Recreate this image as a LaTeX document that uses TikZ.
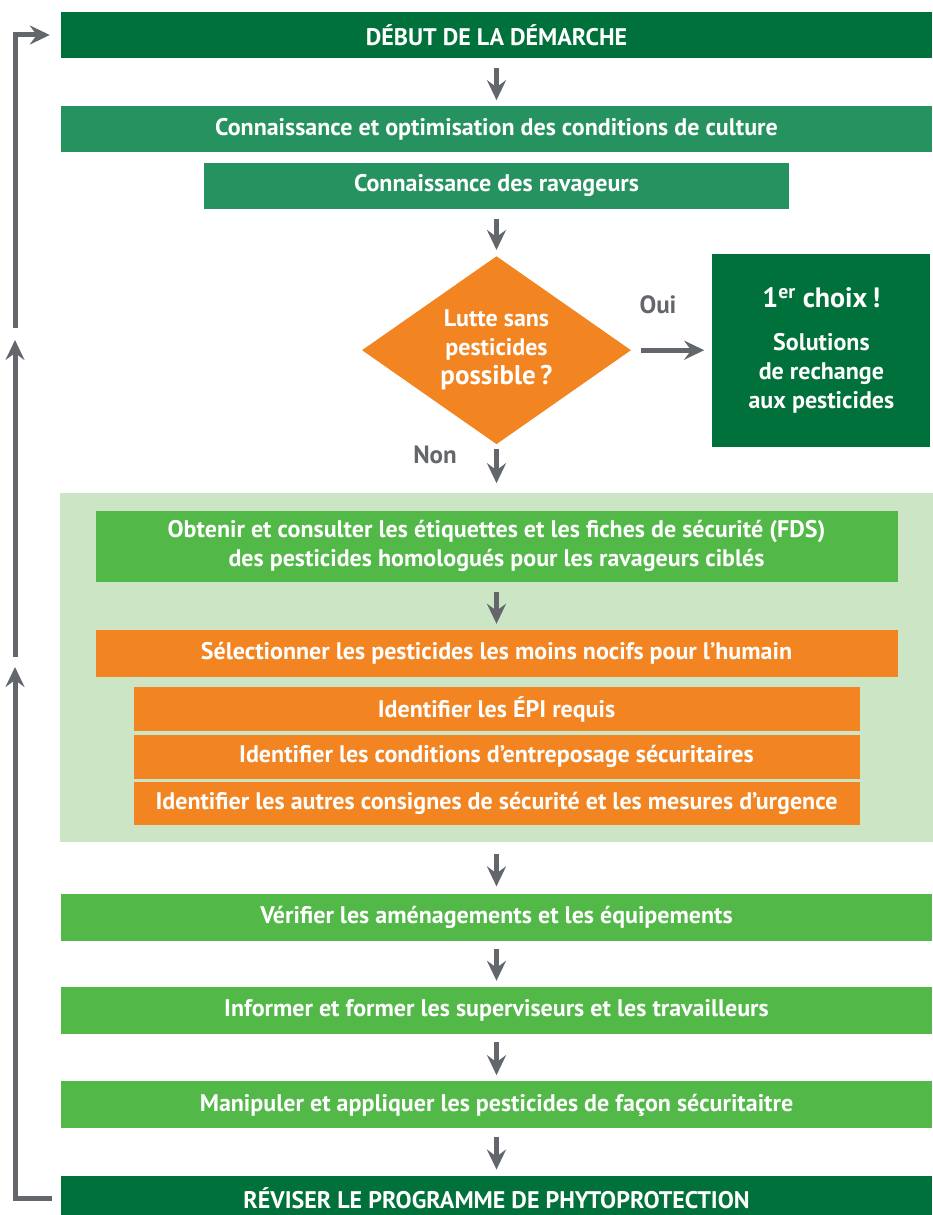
\documentclass[tikz,border=0pt]{standalone}
\usepackage{fontspec}
\setmainfont{PT Sans}
\usetikzlibrary{positioning,shapes.geometric,arrows.meta,fit,backgrounds}
\definecolor{vertfonce}{HTML}{00713A}
\definecolor{vertmoyen}{HTML}{25925F}
\definecolor{vertvif}{HTML}{52B848}
\definecolor{vertpale}{HTML}{CCE5C4}
\definecolor{orangeph}{HTML}{F38422}
\definecolor{grisfleche}{HTML}{63666A}

\begin{document}
\begin{tikzpicture}[x=1pt,y=-1pt,
    font=\fontsize{24}{29}\selectfont\bfseries,
    boite/.style={fill=#1, text=white, inner sep=0pt, minimum height=46pt, align=center},
    pleine/.style={minimum width=871pt},
    losange/.style={diamond, aspect=1.43, fill=orangeph, text=white, inner sep=0pt,
      minimum width=269pt, minimum height=188pt, align=center},
    gris/.style={text=grisfleche, font=\fontsize{25}{29}\selectfont\bfseries},
    fleche/.style={-{Stealth[length=20pt,width=19pt,inset=7pt]}, line width=5pt,
      draw=grisfleche, shorten <=10pt, shorten >=6pt},
    retour/.style={-{Stealth[length=20pt,width=19pt,inset=7pt]}, line width=5pt,
      draw=grisfleche, line join=miter}
  ]
  \useasboundingbox (0,0) rectangle (932,1215);

  \node[boite=vertfonce, pleine] (debut) at (496.5,35) {DÉBUT DE LA DÉMARCHE};
  \node[boite=vertmoyen, pleine, below=48pt of debut] (culture)
    {Connaissance et optimisation des conditions de culture};
  \node[boite=vertmoyen, minimum width=585pt, below=10pt of culture] (ravageurs)
    {Connaissance des ravageurs};
  \node[losange, below=47pt of ravageurs] (lutte)
    {Lutte sans\\pesticides\\{\fontsize{27}{29}\selectfont possible\,?}};
  \node[boite=vertfonce, minimum width=218pt, minimum height=193pt, right=81pt of lutte] (choix)
    {{\fontsize{28}{29}\selectfont 1\textsuperscript{er} choix\,!}\\[14pt]Solutions\\de rechange\\aux pesticides};
  \node[gris] (oui) at (658,305) {Oui};
  \node[gris] (non) at (435,455) {Non};

  \node[boite=vertvif, minimum width=802pt, minimum height=71pt, below=66pt of lutte] (fiches)
    {Obtenir et consulter les étiquettes et les fiches de sécurité (FDS)\\
     des pesticides homologués pour les ravageurs ciblés};
  \node[boite=orangeph, minimum width=802pt, minimum height=47pt, below=48pt of fiches] (choisir)
    {Sélectionner les pesticides les moins nocifs pour l’humain};
  \node[boite=orangeph, minimum width=726pt, minimum height=44pt, below=10pt of choisir] (epi)
    {Identifier les ÉPI requis};
  \node[boite=orangeph, minimum width=726pt, minimum height=44pt, below=3pt of epi] (entreposage)
    {Identifier les conditions d’entreposage sécuritaires};
  \node[boite=orangeph, minimum width=726pt, minimum height=43pt, below=3pt of entreposage] (urgence)
    {Identifier les autres consignes de sécurité et les mesures d’urgence};
  \begin{scope}[on background layer]
    \node[fill=vertpale, inner xsep=35pt, inner ysep=17pt, fit=(fiches)(urgence)] (groupe) {};
  \end{scope}

  \node[boite=vertvif, pleine, minimum height=47pt, below=68pt of urgence] (verifier)
    {Vérifier les aménagements et les équipements};
  \node[boite=vertvif, pleine, minimum height=47pt, below=46pt of verifier] (informer)
    {Informer et former les superviseurs et les travailleurs};
  \node[boite=vertvif, pleine, minimum height=47pt, below=47pt of informer] (manipuler)
    {Manipuler et appliquer les pesticides de façon sécuritaitre};
  \node[boite=vertfonce, pleine, minimum height=44pt, below=47pt of manipuler] (reviser)
    {RÉVISER LE PROGRAMME DE PHYTOPROTECTION};

  \draw[fleche] (debut) -- (culture);
  \draw[fleche] (ravageurs) -- (lutte);
  \draw[fleche, shorten <=10pt, shorten >=8pt] (lutte.east) -- (lutte.east -| choix.west);
  \draw[fleche, shorten <=5pt, shorten >=10pt] (lutte) -- (groupe);
  \draw[fleche] (fiches) -- (choisir);
  \draw[fleche, shorten <=11pt, shorten >=7pt] (groupe) -- (verifier);
  \draw[fleche, shorten <=8pt] (verifier) -- (informer);
  \draw[fleche, shorten <=8pt] (informer) -- (manipuler);
  \draw[fleche, shorten <=8pt] (manipuler) -- (reviser);

  \coordinate (depart) at (52,1198);
  \coordinate (coin-bas) at (15,1198);
  \coordinate (pointe1) at (15,667);
  \coordinate (reprise1) at (15,657);
  \coordinate (pointe2) at (15,340);
  \coordinate (reprise2) at (15,328);
  \coordinate (coin-haut) at (15,35);
  \draw[retour] (depart) -- (coin-bas) -- (pointe1);
  \draw[retour] (reprise1) -- (pointe2);
  \draw[retour, shorten >=11pt] (reprise2) -- (coin-haut) -- (debut.west);
\end{tikzpicture}
\end{document}
